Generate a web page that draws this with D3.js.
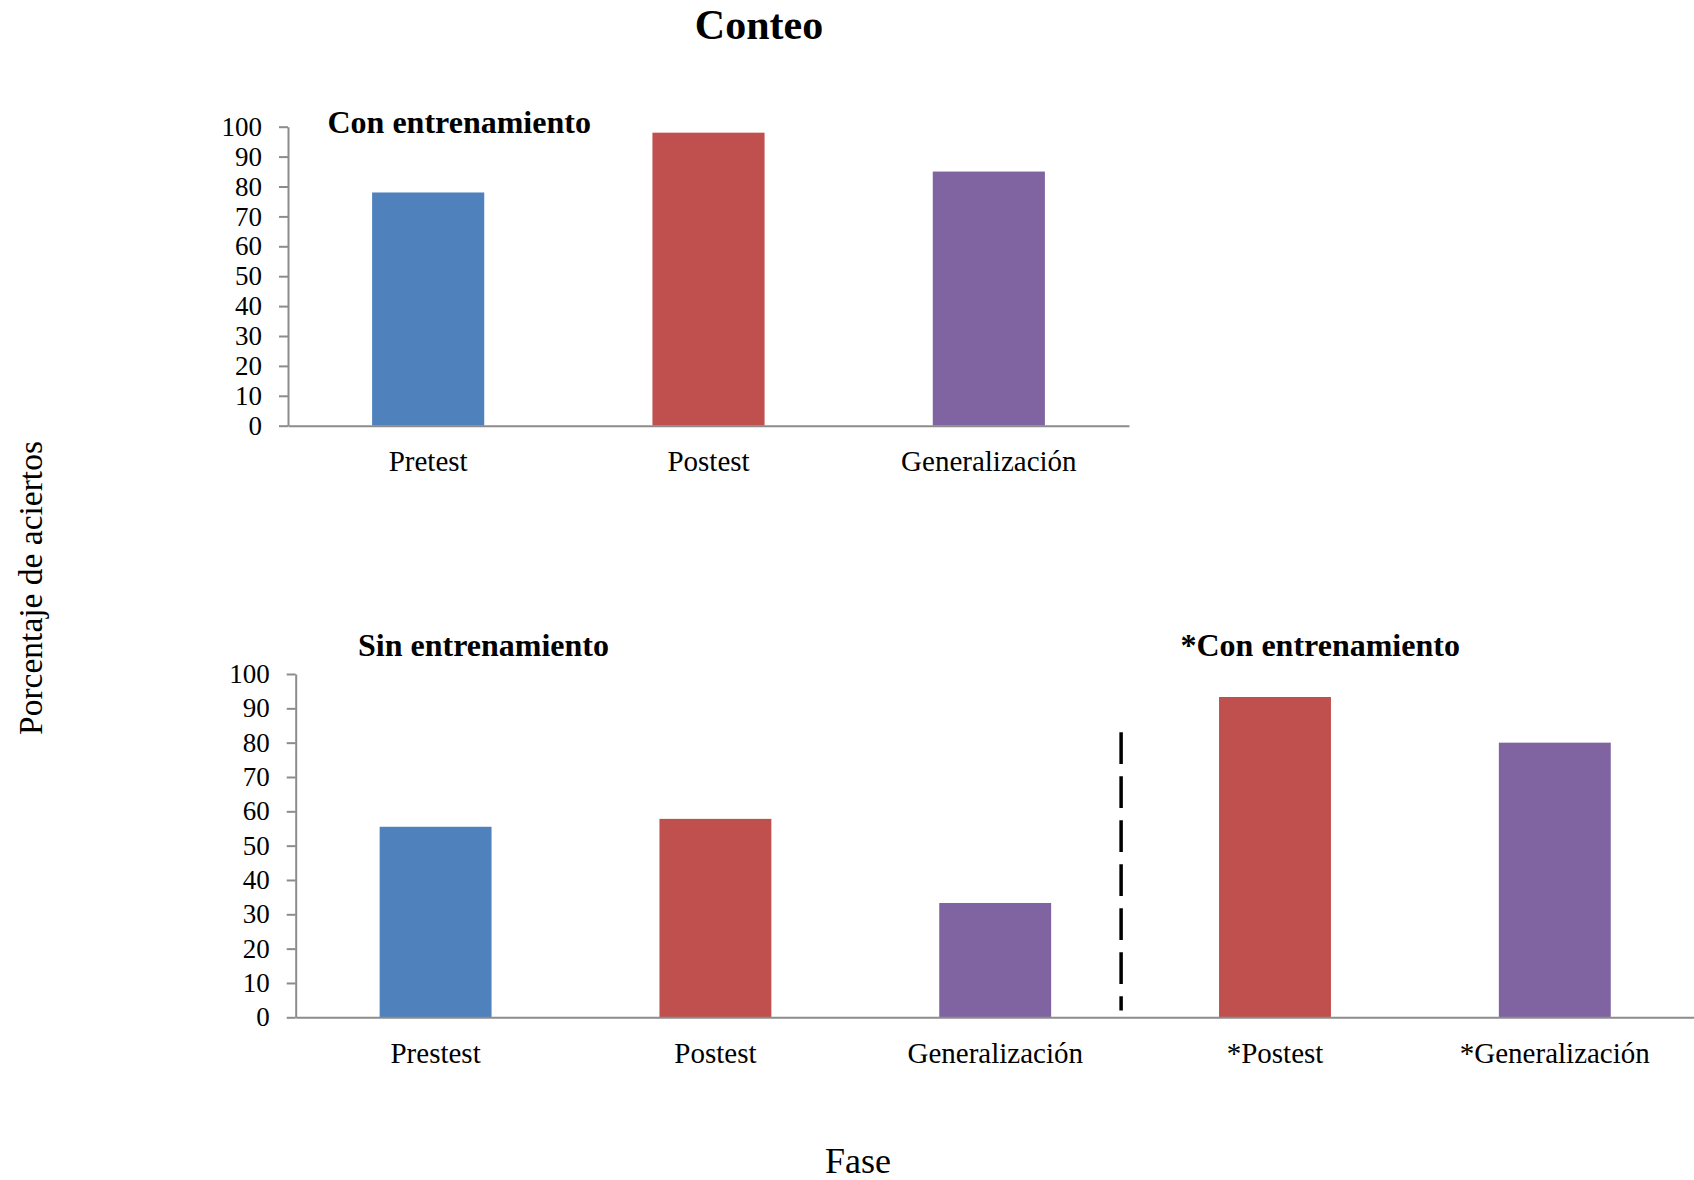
<!DOCTYPE html>
<html>
<head>
<meta charset="utf-8">
<script src="https://cdn.jsdelivr.net/npm/d3@7"></script>
<style>
  html, body { margin: 0; padding: 0; background: #fff; }
  svg { display: block; }
  text { font-family: "Liberation Serif", "Times New Roman", serif; fill: #000; }
</style>
</head>
<body>
<svg id="chart" width="1694" height="1180"></svg>
<script>
// ---- data ----
const topCategories = ["Pretest", "Postest", "Generalización"];
const topValues = [78, 98, 85];
const bottomCategories = ["Prestest", "Postest", "Generalización", "*Postest", "*Generalización"];
const bottomValues = [55.5, 57.8, 33.3, 93.3, 80];
const yTicks = [0, 10, 20, 30, 40, 50, 60, 70, 80, 90, 100];
const topPhases = ["pre", "post", "gen"];
const bottomPhases = ["pre", "post", "gen", "post", "gen"];
const dividerExtent = [2, 83];

const colors = { pre: "#4F81BD", post: "#C0504D", gen: "#8064A2" };
const axisColor = "#8C8C8C";

const svg = d3.select("#chart");

// Title
svg.append("text").attr("x", 759).attr("y", 39)
  .attr("text-anchor", "middle").attr("font-size", 42).attr("font-weight", "bold")
  .text("Conteo");

function panel(cfg) {
  const g = svg.append("g");
  const x = d3.scaleBand().domain(cfg.categories).range([cfg.x0, cfg.x1])
    .paddingInner(0.6).paddingOuter(0.3);
  const y = d3.scaleLinear().domain([0, 100]).range([cfg.y0, cfg.y1]);

  // bars
  g.selectAll("rect.bar").data(cfg.values).enter().append("rect")
    .attr("class", "bar")
    .attr("x", (d, i) => x(cfg.categories[i]))
    .attr("width", x.bandwidth())
    .attr("y", d => y(d))
    .attr("height", d => y(0) - y(d))
    .attr("fill", (d, i) => colors[cfg.phases[i]]);

  // y axis
  const ya = g.append("g").attr("transform", `translate(${cfg.x0},0)`)
    .call(d3.axisLeft(y).tickValues(yTicks).tickSize(9).tickSizeOuter(0).tickPadding(17));
  ya.selectAll("path, line").attr("stroke", axisColor).attr("stroke-width", 2);
  ya.selectAll("text").attr("font-size", 27).attr("font-family", "Liberation Serif").attr("fill", "#000");

  // x axis
  const xa = g.append("g").attr("transform", `translate(0,${cfg.y0})`)
    .call(d3.axisBottom(x).tickSize(0).tickSizeOuter(0).tickPadding(25));
  xa.selectAll("path").attr("stroke", axisColor).attr("stroke-width", 2);
  xa.selectAll("text").attr("font-size", 29).attr("font-family", "Liberation Serif").attr("fill", "#000");
  return { x, y, g };
}

const topPanel = panel({ categories: topCategories, values: topValues, phases: topPhases,
  x0: 288, x1: 1129, y0: 425.7, y1: 126.7 });
const botPanel = panel({ categories: bottomCategories, values: bottomValues, phases: bottomPhases,
  x0: 295.7, x1: 1694.7, y0: 1017.3, y1: 674 });

// Panel subtitles
svg.append("text").attr("x", 327.5).attr("y", 133).attr("font-size", 32).attr("font-weight", "bold")
  .text("Con entrenamiento");
svg.append("text").attr("x", 358).attr("y", 656).attr("font-size", 32).attr("font-weight", "bold")
  .text("Sin entrenamiento");
svg.append("text").attr("x", 1180.5).attr("y", 656).attr("font-size", 32).attr("font-weight", "bold")
  .text("*Con entrenamiento");

// dashed divider
const dx = botPanel.x("*Postest") - botPanel.x.step() * 0.35;
svg.append("line")
  .attr("x1", dx).attr("x2", dx)
  .attr("y1", botPanel.y(dividerExtent[1])).attr("y2", botPanel.y(dividerExtent[0]))
  .attr("stroke", "#000").attr("stroke-width", 3.5)
  .attr("stroke-dasharray", "31.7,12.3");

// axis titles
svg.append("text").attr("x", 858).attr("y", 1173).attr("text-anchor", "middle")
  .attr("font-size", 36).text("Fase");
svg.append("text").attr("transform", "translate(42,588) rotate(-90)")
  .attr("text-anchor", "middle").attr("font-size", 33.5).text("Porcentaje de aciertos");
</script>
</body>
</html>
